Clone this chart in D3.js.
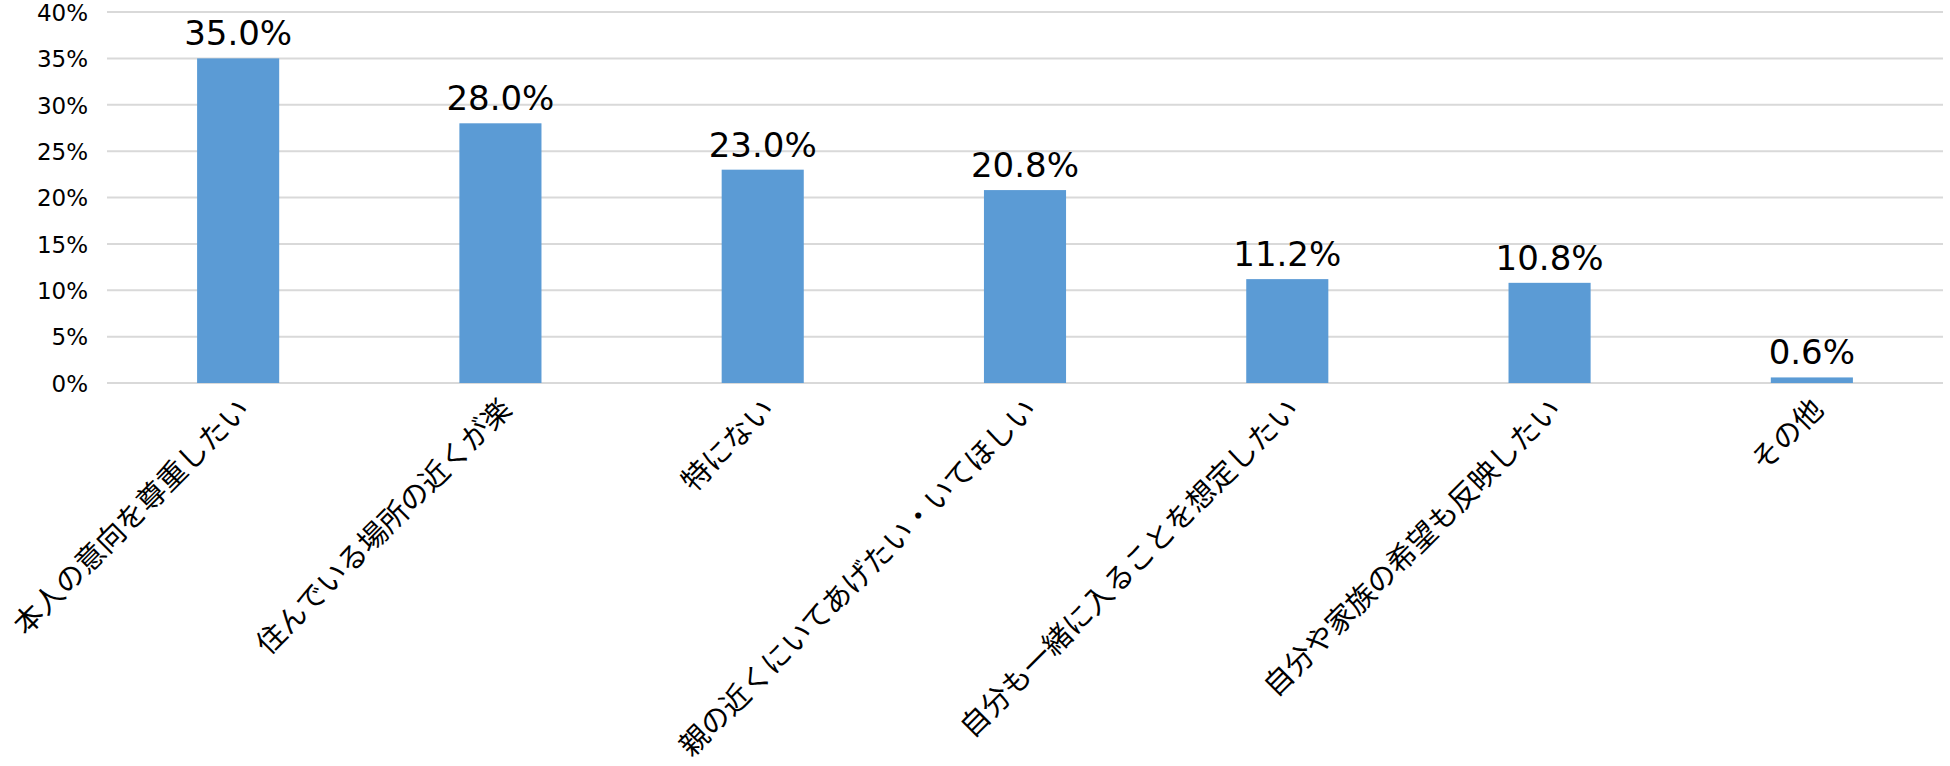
<!DOCTYPE html>
<html><head><meta charset="utf-8">
<script src="https://cdn.jsdelivr.net/npm/d3@7"></script>
<style>body{margin:0;background:#fff}svg{display:block}</style>
</head><body><svg id="c" width="1950" height="766"></svg>
<script>
const categories = ["本人の意向を尊重したい","住んでいる場所の近くが楽","特にない","親の近くにいてあげたい・いてほしい","自分も一緒に入ることを想定したい","自分や家族の希望も反映したい","その他"];
const values = [35.0, 28.0, 23.0, 20.8, 11.2, 10.8, 0.6];
const yTicks = [0,5,10,15,20,25,30,35,40];

const svg = d3.select("#c");
const jfont = "'Noto Sans CJK JP', 'Noto Sans', sans-serif";
const nfont = "'DejaVu Sans', 'Noto Sans', sans-serif";
const x = d3.scaleBand().domain(categories).range([107,1943]).paddingInner(0.687).paddingOuter(0.3435);
const y = d3.scaleLinear().domain([0,40]).range([383,12]);

// gridlines
svg.append("g").selectAll("line").data(yTicks).join("line")
  .attr("x1",107).attr("x2",1943).attr("y1",d=>y(d)).attr("y2",d=>y(d))
  .attr("stroke","#d9d9d9").attr("stroke-width",2);

// y axis labels
const yAxis = d3.axisLeft(y).tickValues(yTicks).tickFormat(d=>d+"%").tickSize(0).tickPadding(0);
const ga = svg.append("g").attr("transform","translate(88,0)").call(yAxis);
ga.select(".domain").remove();
ga.selectAll("text").attr("font-family",nfont).attr("font-size",23).attr("fill","#000").attr("dy","0.36em");

// bars
svg.append("g").selectAll("rect").data(values).join("rect")
  .attr("x",(d,i)=>x(categories[i])).attr("width",x.bandwidth())
  .attr("y",d=>y(d)).attr("height",d=>y(0)-y(d)).attr("fill","#5b9bd5");

// value labels
svg.append("g").selectAll("text").data(values).join("text")
  .attr("x",(d,i)=>x(categories[i])+x.bandwidth()/2).attr("y",d=>y(d)-13)
  .attr("text-anchor","middle").attr("font-family",nfont).attr("font-size",34)
  .attr("fill","#000").text(d=>d.toFixed(1)+"%");

// x labels
svg.append("g").selectAll("text").data(categories).join("text")
  .attr("transform",d=>`translate(${x(d)+x.bandwidth()/2+6},404) rotate(-45)`)
  .attr("text-anchor","end").attr("dy","0.35em").attr("font-family",jfont).attr("font-size",29)
  .attr("fill","#000").text(d=>d);
</script></body></html>
